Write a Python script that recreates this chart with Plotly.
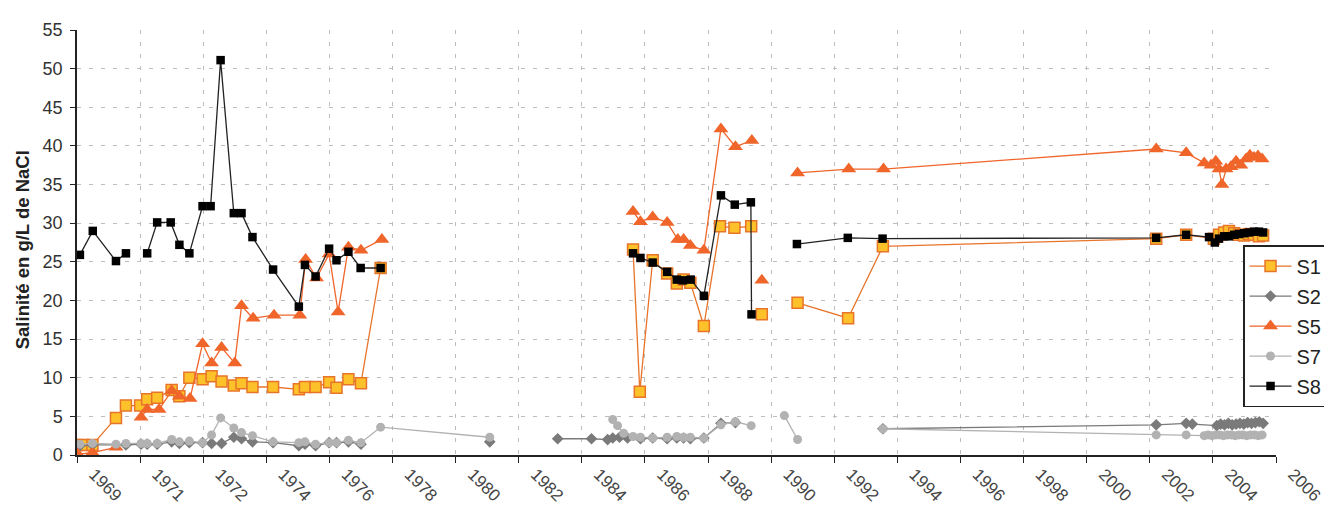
import plotly.graph_objects as go

# ---- x tick labels (Excel-like date axis, ~716 days per major unit) ----
tick_labels = ["1969", "1971", "1972", "1974", "1976", "1978", "1980", "1982", "1984", "1986",
               "1988", "1990", "1992", "1994", "1996", "1998", "2000", "2002", "2004", "2006"]
tick_start = 1969.06
tick_step = 1.96
y_title = "Salinité en g/L de NaCl"

# ---- series (decimal year, salinity g/L); None breaks the line ----
s1_x = [1969.05, 1969.26, 1969.54, 1970.27, 1970.58, 1971.02, 1971.24, 1971.55, 1972.00, 1972.24,
        1972.55, 1972.96, 1973.24, 1973.55, 1973.93, 1974.17, 1974.51, 1975.15, 1975.95, 1976.14,
        1976.47, 1976.89, 1977.12, 1977.49, 1977.88, 1978.49, None,
        1986.33, 1986.54, 1986.94, 1987.39, 1987.69, 1987.90, 1988.11, 1988.53, 1989.03, 1989.48,
        1990.00, None, 1990.33, None, 1991.44, 1993.01, 1994.09, 2002.58, 2003.51,
        2004.37, 2004.53, 2004.69, 2004.84, 2005.00, 2005.15, 2005.31, 2005.46, 2005.62, 2005.77, 2005.90]
s1_y = [1.3, 1.3, 1.3, 4.8, 6.4, 6.4, 7.2, 7.4, 8.4, 7.6,
        10.0, 9.8, 10.2, 9.5, 9.0, 9.3, 8.8, 8.8, 8.5, 8.8,
        8.8, 9.4, 8.7, 9.8, 9.3, 24.2, None,
        26.6, 8.2, 25.2, 23.5, 22.2, 22.7, 22.3, 16.7, 29.6, 29.4,
        29.6, None, 18.2, None, 19.7, 17.7, 27.0, 28.0, 28.5,
        28.0, 28.5, 28.8, 29.0, 28.7, 28.5, 28.4, 28.6, 28.5, 28.3, 28.4]

s2_x = [1969.15, 1969.54, 1970.58, 1971.05, 1971.24, 1971.55, 1972.00, 1972.24, 1972.55, 1972.96,
        1973.24, 1973.55, 1973.93, 1974.17, 1974.51, 1975.15, 1975.95, 1976.14, 1976.47, 1976.89,
        1977.12, 1977.49, 1977.88, None, 1981.88, None,
        1983.99, 1985.04, 1985.54, 1985.70, 1985.91, 1986.16, 1986.56, 1986.94, 1987.39, 1987.69,
        1987.90, 1988.11, 1988.53, 1989.06, 1989.51, None,
        1994.09, 2002.58, 2003.51, 2003.70,
        2004.46, 2004.58, 2004.70, 2004.82, 2004.94, 2005.06, 2005.18, 2005.30, 2005.42, 2005.54,
        2005.66, 2005.78, 2005.90]
s2_y = [1.2, 1.3, 1.3, 1.4, 1.4, 1.4, 1.7, 1.5, 1.6, 1.6,
        1.5, 1.5, 2.3, 2.1, 1.7, 1.6, 1.2, 1.4, 1.2, 1.6,
        1.6, 1.7, 1.4, None, 1.7, None,
        2.1, 2.1, 2.0, 2.2, 2.3, 2.2, 2.1, 2.2, 2.1, 2.2,
        2.2, 2.1, 2.2, 4.1, 4.2, None,
        3.4, 3.9, 4.1, 4.0,
        3.8, 4.0, 3.9, 4.1, 3.9, 4.0, 4.1, 4.0, 4.2, 4.1,
        4.2, 4.3, 4.1]

s5_x = [1969.09, 1969.54, 1970.27, None,
        1971.05, 1971.24, 1971.61, 1972.00, 1972.24, 1972.57, 1972.96, 1973.24, 1973.55, 1973.96,
        1974.17, 1974.53, 1975.18, 1975.98, 1976.16, 1976.50, 1976.89, 1977.17, 1977.49, 1977.88,
        1978.53, None,
        1986.33, 1986.56, 1986.94, 1987.39, 1987.72, 1987.90, 1988.11, 1988.53, 1989.06, 1989.51,
        1990.02, None, 1990.33, None, 1991.44, 1993.03, 1994.11, 2002.58, 2003.51,
        2004.07, 2004.28, 2004.43, 2004.53, 2004.62, 2004.75, 2004.90, 2005.06, 2005.21, 2005.37,
        2005.49, 2005.62, 2005.74, 2005.87]
s5_y = [0.1, 0.3, 1.0, None,
        4.9, 5.9, 5.9, 8.3, 7.6, 7.3, 14.4, 11.9, 13.9, 11.9,
        19.3, 17.7, 18.1, 18.1, 25.3, 22.9, 26.0, 18.5, 26.9, 26.5,
        27.9, None,
        31.5, 30.2, 30.8, 30.1, 27.9, 27.9, 27.1, 26.5, 42.2, 39.9,
        40.7, None, 22.6, None, 36.5, 37.0, 37.0, 39.6, 39.1,
        37.8, 37.5, 38.0, 37.0, 35.0, 37.0, 37.3, 38.0, 37.5, 38.3,
        38.8, 38.5, 38.7, 38.3]

s7_x = [1969.15, 1969.54, 1970.27, 1970.58, 1971.05, 1971.24, 1971.55, 1972.00, 1972.24, 1972.55,
        1972.96, 1973.24, 1973.52, 1973.93, 1974.17, 1974.51, 1975.15, 1975.95, 1976.14, 1976.47,
        1976.89, 1977.12, 1977.49, 1977.88, 1978.49, 1981.88, None,
        1985.70, 1985.85, 1986.04, 1986.33, 1986.56, 1986.94, 1987.39, 1987.69, 1987.90, 1988.11,
        1988.53, 1989.06, 1989.51, 1990.00, None, 1991.03, 1991.44, None,
        1994.09, 2002.58, 2003.51,
        2004.07, 2004.19, 2004.31, 2004.43, 2004.55, 2004.67, 2004.79, 2004.91, 2005.03, 2005.15,
        2005.27, 2005.39, 2005.51, 2005.63, 2005.75, 2005.87]
s7_y = [1.4, 1.5, 1.4, 1.5, 1.5, 1.5, 1.5, 2.0, 1.7, 1.8,
        1.6, 2.6, 4.8, 3.5, 2.9, 2.5, 1.7, 1.6, 1.7, 1.4,
        1.6, 1.6, 1.9, 1.6, 3.6, 2.3, None,
        4.6, 3.8, 2.8, 2.4, 2.3, 2.2, 2.3, 2.4, 2.3, 2.3,
        2.2, 3.9, 4.3, 3.8, None, 5.1, 2.0, None,
        3.4, 2.6, 2.6,
        2.5, 2.6, 2.5, 2.6, 2.6, 2.5, 2.6, 2.6, 2.5, 2.6,
        2.6, 2.5, 2.6, 2.6, 2.5, 2.6]

s8_x = [1969.15, 1969.55, 1970.27, 1970.58, None,
        1971.24, 1971.55, 1971.97, 1972.24, 1972.55, 1972.96, 1973.21, 1973.52, 1973.93, 1974.17,
        1974.51, 1975.15, 1975.95, 1976.14, 1976.47, 1976.89, 1977.12, 1977.49, 1977.87, 1978.49, None,
        1986.33, 1986.56, 1986.94, 1987.39, 1987.69, 1987.88, 1988.12, 1988.53, 1989.06, 1989.49,
        1989.99, 1990.01, None, 1991.42, 1993.00, 1994.08, 2002.58, 2003.51,
        2004.22, 2004.40, 2004.53, 2004.69, 2004.84, 2005.00, 2005.15, 2005.31, 2005.46, 2005.62,
        2005.77, 2005.90]
s8_y = [25.9, 29.0, 25.1, 26.1, None,
        26.1, 30.1, 30.1, 27.2, 26.1, 32.2, 32.2, 51.1, 31.3, 31.3,
        28.2, 24.0, 19.2, 24.6, 23.1, 26.7, 25.2, 26.3, 24.2, 24.2, None,
        26.1, 25.5, 24.9, 23.7, 22.7, 22.6, 22.7, 20.6, 33.6, 32.4,
        32.7, 18.2, None, 27.3, 28.1, 28.0, 28.1, 28.5,
        28.2, 27.5, 28.0, 28.3, 28.3, 28.5, 28.6, 28.7, 28.8, 28.9,
        28.9, 28.8]

tick_vals = [tick_start + k * tick_step for k in range(len(tick_labels))]

fig = go.Figure()
fig.add_trace(go.Scatter(x=s1_x, y=s1_y, name="S1", legendgroup="S1", mode="lines+markers",
                         line=dict(color="#E8742A", width=1.3),
                         marker=dict(symbol="square", size=11, color="#FDC12A",
                                     line=dict(color="#E8742A", width=1.5))))
fig.add_trace(go.Scatter(x=s2_x, y=s2_y, name="S2", legendgroup="S2", mode="lines+markers",
                         line=dict(color="#7A7A7A", width=1.3),
                         marker=dict(symbol="diamond", size=9, color="#7A7A7A")))
fig.add_trace(go.Scatter(x=s5_x, y=s5_y, name="S5", legendgroup="S5", mode="lines+markers",
                         line=dict(color="#F0652A", width=1.3),
                         marker=dict(symbol="triangle-up", size=13, color="#F0652A")))
fig.add_trace(go.Scatter(x=s7_x, y=s7_y, name="S7", legendgroup="S7", mode="lines+markers",
                         line=dict(color="#B2B2B2", width=1.3),
                         marker=dict(symbol="circle", size=9, color="#B2B2B2")))
fig.add_trace(go.Scatter(x=s8_x, y=s8_y, name="S8", legendgroup="S8", mode="lines+markers",
                         line=dict(color="#222222", width=1.3),
                         marker=dict(symbol="square", size=8.5, color="#000000")))

fig.update_layout(
    width=1332, height=518,
    margin=dict(l=69, r=64, t=15, b=71),
    paper_bgcolor="white", plot_bgcolor="white",
    font=dict(family="Liberation Sans, Arial, sans-serif", color="#333333"),
    showlegend=True,
    legend=dict(x=0.9725, y=0.494, xanchor="left", yanchor="top",
                bgcolor="white", bordercolor="#222222", borderwidth=1.5,
                font=dict(size=20, color="#222222"), itemwidth=42,
                tracegroupgap=1),
    annotations=[dict(text="<b>" + y_title + "</b>", xref="paper", yref="paper",
                      x=-0.0459, y=0.484, xanchor="center", yanchor="middle",
                      textangle=-90, showarrow=False,
                      font=dict(size=18.5, color="#222222"))],
)
fig.update_xaxes(
    range=[tick_vals[0], tick_vals[-1]],
    tickmode="array", tickvals=tick_vals, ticktext=tick_labels,
    tickangle=45, tickfont=dict(size=17, color="#444444"),
    ticklabelshift=17, ticklabelstandoff=-5,
    ticks="outside", ticklen=6, tickcolor="#222222",
    showline=True, linecolor="#222222", linewidth=1.5,
    showgrid=True, gridcolor="#BDBDBD", griddash="4px,8px", gridwidth=1,
    zeroline=False,
)
fig.update_yaxes(
    range=[0, 55], dtick=5, tick0=0,
    tickfont=dict(size=18, color="#333333"),
    ticks="outside", ticklen=5, tickcolor="#222222",
    ticklabelstandoff=4,
    showline=True, linecolor="#222222", linewidth=1.5,
    showgrid=True, gridcolor="#BDBDBD", griddash="4px,8px", gridwidth=1,
    zeroline=False,
)

fig.write_html("out.html")
